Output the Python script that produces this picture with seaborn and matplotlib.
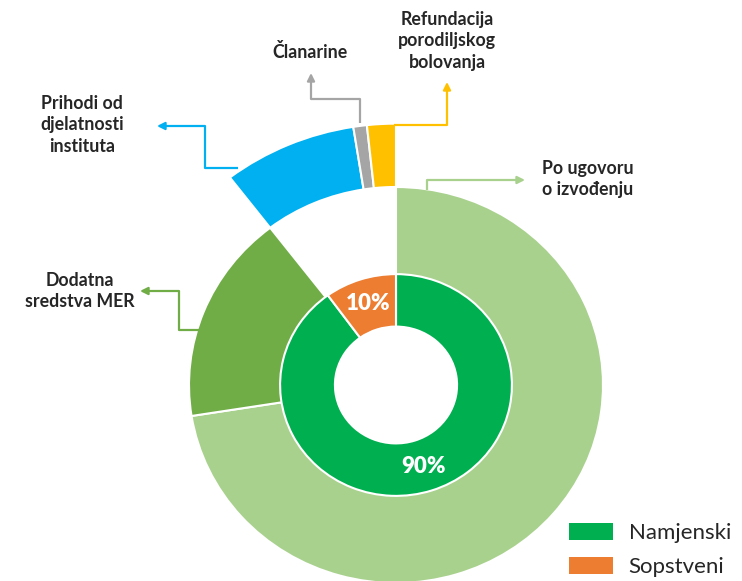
import matplotlib
matplotlib.use("Agg")
import matplotlib.pyplot as plt
import seaborn as sns
from matplotlib.patches import Patch

sns.set_theme(style="white")
plt.rcParams["font.family"] = ["Lato", "DejaVu Sans"]

# ---- data ----
outer_labels = ["Po ugovoru\no izvođenju", "Dodatna\nsredstva MER",
                "Prihodi od\ndjelatnosti\ninstituta", "Članarine",
                "Refundacija\nporodiljskog\nbolovanja"]
outer_values = [72.5, 17.1, 7.9, 0.8, 1.7]
outer_colors = ["#A9D18E", "#70AD47", "#00B0F0", "#A5A5A5", "#FFC000"]
inner_labels = ["Namjenski", "Sopstveni"]
inner_values = [90, 10]
inner_colors = ["#00B050", "#ED7D31"]

W, H = 742, 581
fig = plt.figure(figsize=(W / 100, H / 100), dpi=100)
ax = fig.add_axes([0, 0, 1, 1])

CX, CY, SX, SY = 396, 385, 207, 198


def px(x, y):
    return ((x - CX) / SX, (CY - y) / SY)


# main ring (large slices), hole left empty
w1, _ = ax.pie(outer_values, radius=1.0, colors=outer_colors, startangle=90,
               counterclock=False,
               wedgeprops=dict(width=0.705, edgecolor="white", linewidth=1.5))
for w in w1[2:]:
    w.set_visible(False)

# outer band (small slices pulled outwards)
w2, _ = ax.pie(outer_values, radius=1.32, colors=outer_colors, startangle=90,
               counterclock=False,
               wedgeprops=dict(width=0.32, edgecolor="white", linewidth=1.5))
for w in w2[:2]:
    w.set_visible(False)

# inner donut
w3, _, autotexts = ax.pie(inner_values, radius=0.56, colors=inner_colors,
                          startangle=90, counterclock=False, autopct="%d%%",
                          pctdistance=0.77,
                          wedgeprops=dict(width=0.265, edgecolor="white",
                                          linewidth=1.5))
for t in autotexts:
    t.set_color("white")
    t.set_fontweight("heavy")
    t.set_fontsize(16)

ax.set_aspect("auto")
ax.set_xlim(-CX / SX, (W - CX) / SX)
ax.set_ylim((CY - H) / SY, CY / SY)
ax.axis("off")

# leader lines (layout in pixels)
leaders = [
    ([(427, 190), (427, 180), (525, 180)], (542, 179), "left"),
    ([(200, 330), (179, 330), (179, 291), (140, 291)], (80, 291), "center"),
    ([(238, 168), (205, 168), (205, 126), (157, 126)], (82, 125), "center"),
    ([(360, 123), (360, 99), (311, 99), (311, 73)], (310, 52), "center"),
    ([(394, 125), (447, 125), (447, 82)], (447, 41), "center"),
]
for (pts, tpos, ha), lab, col in zip(leaders, outer_labels, outer_colors):
    dpts = [px(*p) for p in pts]
    xs, ys = zip(*dpts[:-1])
    ax.plot(xs, ys, color=col, lw=1.6, solid_capstyle="butt")
    ax.annotate("", xy=dpts[-1], xytext=dpts[-2],
                arrowprops=dict(arrowstyle="-|>", color=col, lw=1.6,
                                mutation_scale=11, shrinkA=0, shrinkB=0))
    ax.text(*px(*tpos), lab, ha=ha, va="center", fontsize=12.8,
            fontweight="bold", color="#262626", linespacing=1.3)

handles = [Patch(facecolor=c, edgecolor="none") for c in inner_colors]
leg = fig.legend(handles, inner_labels, loc="lower right",
                 bbox_to_anchor=(1.0, -0.012), frameon=False, fontsize=16,
                 handlelength=2.0, handleheight=0.8, handletextpad=0.7,
                 labelspacing=0.6, borderaxespad=0.1)
for t in leg.get_texts():
    t.set_color("#262626")

fig.savefig("out.png", dpi=100, facecolor="white")
